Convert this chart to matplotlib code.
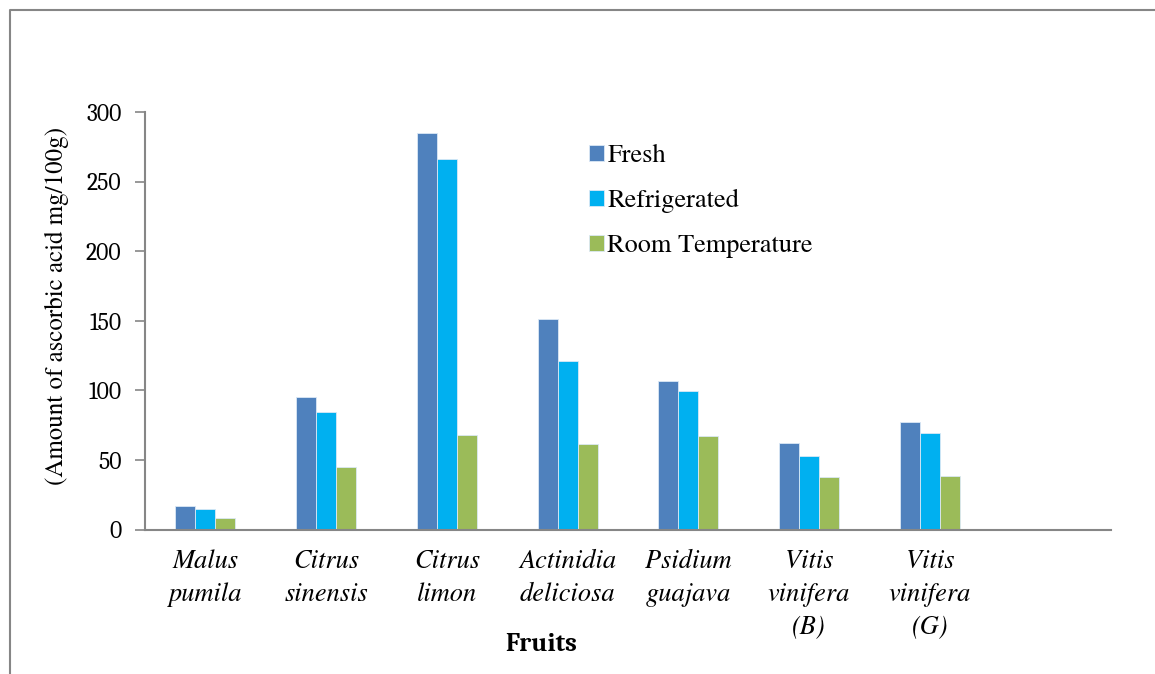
import numpy as np
import matplotlib.pyplot as plt
from matplotlib.lines import Line2D

times = ['TeX Gyre Termes', 'Liberation Serif', 'DejaVu Serif']
cambria = ['Caladea', 'DejaVu Serif']
plt.rcParams['font.family'] = times

# data
fruits = ["Malus\npumila", "Citrus\nsinensis", "Citrus\nlimon", "Actinidia\ndeliciosa",
          "Psidium\nguajava", "Vitis\nvinifera\n(B)", "Vitis\nvinifera\n(G)"]
fresh = [16.9, 94.9, 285.1, 151.0, 106.5, 61.9, 77.0]
refrigerated = [14.9, 84.1, 266.5, 121.0, 99.4, 52.5, 69.0]
room_temp = [8.3, 45.1, 67.8, 61.6, 67.1, 37.5, 38.2]
series_names = ["Fresh", "Refrigerated", "Room Temperature"]
colors = ["#4F81BD", "#00B0F0", "#9BBB59"]

W, H = 1155, 674
fig = plt.figure(figsize=(W / 100, H / 100), dpi=100)
ax = fig.add_axes([145 / W, (H - 529.5) / H, (1111 - 145) / W, (529.5 - 112) / H])

x = np.arange(len(fruits))
w = 0.166
for i, (vals, name, c) in enumerate(zip([fresh, refrigerated, room_temp], series_names, colors)):
    ax.bar(x + (i - 1) * w, vals, w, color=c, edgecolor="#dbe8f5", linewidth=0.6, label=name)

ax.set_xlim(-0.5, 7.5)
ax.set_ylim(0, 300)
ax.set_yticks(range(0, 301, 50))
ax.set_xticks(x)
ax.set_xticklabels(fruits, fontstyle="italic", fontsize=19, linespacing=1.45, va="top")
ax.tick_params(axis="x", length=0, pad=14)
ax.tick_params(axis="y", length=7, width=1.2, color="#868686", pad=10)
for lab in ax.get_yticklabels():
    lab.set_family(cambria)
    lab.set_fontsize(17)

for s in ["top", "right"]:
    ax.spines[s].set_visible(False)
for s in ["left", "bottom"]:
    ax.spines[s].set_color("#868686")
    ax.spines[s].set_linewidth(1.5)

# y axis title, placed in figure pixels
fig.text(57 / W, 1 - 306 / H, "(Amount of ascorbic acid mg/100g)", rotation=90,
         ha="center", va="center", fontsize=18)
fig.text(541 / W, 1 - 645 / H, "Fruits", ha="center", va="center", fontsize=19,
         fontweight="bold", family=cambria)

leg = ax.legend(loc="upper left", bbox_to_anchor=(589 / W, 1 - 144 / H), bbox_transform=fig.transFigure,
                frameon=False, prop={"size": 19}, borderpad=0, borderaxespad=0,
                handlelength=0.55, handleheight=0.55, handletextpad=0.15, labelspacing=0.8)

# outer frame around the chart
fig.add_artist(Line2D([10 / W, 10 / W, 1.0], [0.0, 1 - 10 / H, 1 - 10 / H],
                      transform=fig.transFigure, color="#868686", linewidth=1.5))

fig.savefig("out.png", dpi=100)
